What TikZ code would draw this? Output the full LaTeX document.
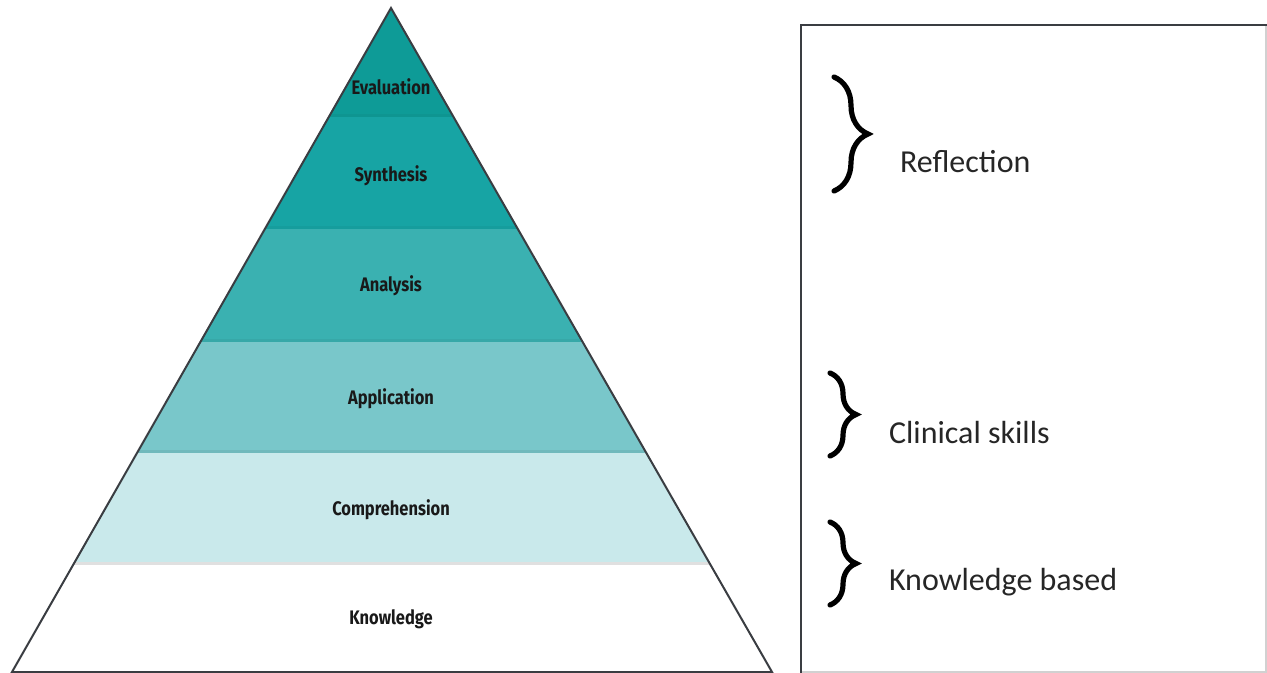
\documentclass[tikz,border=0pt]{standalone}
\usepackage{fontspec}
\usetikzlibrary{decorations.pathreplacing}
\newfontfamily\pyrfont[FakeStretch=0.84]{Fira Sans}
\newfontfamily\sidefont{Carlito}

\definecolor{bandA}{HTML}{0E9B97}
\definecolor{bandB}{HTML}{17A4A4}
\definecolor{bandC}{HTML}{3AB1B1}
\definecolor{bandD}{HTML}{79C7CA}
\definecolor{bandE}{HTML}{C9E9EB}
\definecolor{edgegray}{HTML}{3A3D42}

\tikzset{
  level/.style={font=\pyrfont\bfseries\fontsize{9.8}{11}\selectfont, text=black!90},
  side/.style={anchor=west, font=\sidefont\fontsize{16}{19}\selectfont, text=black!85},
  curly/.style={decorate, decoration={brace, amplitude=#1}, line width=2.6pt, black, line cap=round},
}

\begin{document}
\begin{tikzpicture}[x=0.5pt,y=-0.5pt]
\useasboundingbox (0,0) rectangle (1267,673);
\coordinate (apex) at (391,8);
\coordinate (bl) at (12,672);
\coordinate (br) at (772,672);
% bands of the pyramid
\begin{scope}
\clip (apex) -- (bl) -- (br) -- cycle;
\fill[bandA] (0,0) rectangle (800,117);
\fill[bandB] (0,117) rectangle (800,229);
\fill[bandC] (0,229) rectangle (800,341);
\fill[bandD] (0,341) rectangle (800,452);
\fill[bandE] (0,452) rectangle (800,563);
\fill[white] (0,563) rectangle (800,672);
\draw[bandA!96!black, line width=1.5pt] (0,116) -- (800,116);
\draw[bandB!96!black, line width=1.5pt] (0,228) -- (800,228);
\draw[bandC!95!black, line width=1.5pt] (0,340) -- (800,340);
\draw[bandD!93!black, line width=1.5pt] (0,451) -- (800,451);
\draw[black!12, line width=1.5pt] (0,563) -- (800,563);
\end{scope}
\draw[edgegray, line width=1pt, line join=miter] (apex) -- (bl) -- (br) -- cycle;
\node[level] (eval) at (391,87) {Evaluation};
\node[level] (synth) at (391,176) {Synthesis};
\node[level] (anal) at (391,286) {Analysis};
\node[level] (appl) at (391,399) {Application};
\node[level] (compr) at (391,510) {Comprehension};
\node[level] (know) at (391,619) {Knowledge};
% the box on the right
\draw[black!18, line width=1pt] (1266,24) -- (1266,672) -- (800,672);
\draw[edgegray, line width=1.2pt] (801,673) -- (801,25) -- (1267,25);
% braces and their labels
\draw[curly=17pt] (834,77) -- (834,191);
\draw[curly=13pt] (830,373) -- (830,456);
\draw[curly=13pt] (830,522) -- (830,605);
\node[side] (refl) at (893,162) {Reflection};
\node[side] (clin) at (882,433) {Clinical skills};
\node[side] (kbase) at (882,582) {Knowledge based};
\end{tikzpicture}
\end{document}
